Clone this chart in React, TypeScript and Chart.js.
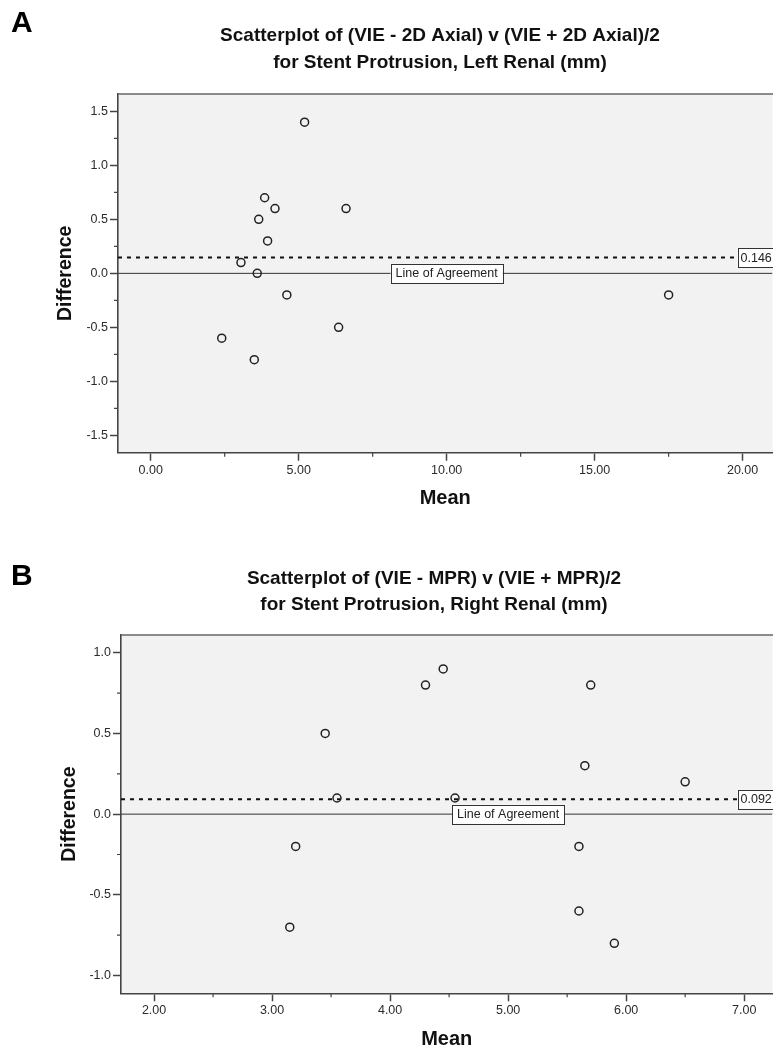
import React, { useEffect, useRef } from "react";
import { Chart, registerables } from "chart.js";

Chart.register(...registerables);

const FONT = '"Liberation Sans", Arial, Helvetica, sans-serif';

// ---------- Panel A: VIE vs 2D Axial, Left Renal ----------
const letterA = "A";
const titleA = [
  "Scatterplot of (VIE - 2D Axial) v (VIE + 2D Axial)/2",
  "for Stent Protrusion, Left Renal (mm)",
];
const meanA = [5.2, 3.85, 4.2, 6.6, 3.65, 3.95, 3.05, 3.6, 4.6, 6.35, 2.4, 3.5, 17.5];
const diffA = [1.4, 0.7, 0.6, 0.6, 0.5, 0.3, 0.1, 0.0, -0.2, -0.5, -0.6, -0.8, -0.2];
const meanDiffA = 0.146;
const meanDiffLabelA = "0.146";
const xTicksA = [0, 5, 10, 15, 20];
const xMinorA = [2.5, 7.5, 12.5, 17.5];
const yTicksA = [-1.5, -1, -0.5, 0, 0.5, 1, 1.5];
const yMinorA = [-1.25, -0.75, -0.25, 0.25, 0.75, 1.25];
const xRangeA = [-1.105, 21.01];
const yRangeA = [-1.661, 1.661];
const agreeLabelXA = 10;

// ---------- Panel B: VIE vs MPR, Right Renal ----------
const letterB = "B";
const titleB = [
  "Scatterplot of (VIE - MPR) v (VIE + MPR)/2",
  "for Stent Protrusion, Right Renal (mm)",
];
const meanB = [3.45, 3.55, 3.2, 3.15, 4.3, 4.45, 5.7, 5.65, 6.5, 4.55, 5.6, 5.6, 5.9];
const diffB = [0.5, 0.1, -0.2, -0.7, 0.8, 0.9, 0.8, 0.3, 0.2, 0.1, -0.2, -0.6, -0.8];
const meanDiffB = 0.092;
const meanDiffLabelB = "0.092";
const xTicksB = [2, 3, 4, 5, 6, 7];
const xMinorB = [2.5, 3.5, 4.5, 5.5, 6.5];
const yTicksB = [-1, -0.5, 0, 0.5, 1];
const yMinorB = [-0.75, -0.25, 0.25, 0.75];
const xRangeB = [1.72, 7.24];
const yRangeB = [-1.11, 1.11];
const agreeLabelXB = 5;

const AXIS_COLOR = "#444444";
const CANVAS_W = 778;

type PanelCfg = {
  letter: string;
  title: string[];
  mean: number[];
  diff: number[];
  meanDiff: number;
  meanDiffLabel: string;
  xTicks: number[];
  xMinor: number[];
  yTicks: number[];
  yMinor: number[];
  xRange: number[];
  yRange: number[];
  agreeX: number;
  // layout
  top: number;
  height: number;
  yWidth: number;
  yTitlePad: number;
  xHeight: number;
  padBottom: number;
  xTitlePadBottom: number;
  letterBaseline: number;
  titleX: number;
  titleBaselines: number[];
};

function drawBox(ctx: CanvasRenderingContext2D, text: string, left: number, right: number, cy: number, textX: number, align: CanvasTextAlign) {
  const h = 19;
  ctx.save();
  ctx.fillStyle = "#ffffff";
  ctx.fillRect(left, cy - h / 2, right - left, h);
  ctx.strokeStyle = "#333333";
  ctx.lineWidth = 1;
  ctx.strokeRect(Math.round(left) + 0.5, Math.round(cy - h / 2) + 0.5, Math.round(right - left), h);
  ctx.fillStyle = "#222222";
  ctx.font = `12.5px ${FONT}`;
  ctx.textAlign = align;
  ctx.textBaseline = "middle";
  ctx.fillText(text, textX, cy + 0.5);
  ctx.restore();
}

function makeDecor(cfg: PanelCfg) {
  return {
    id: "panelDecor",
    beforeDraw(chart: any) {
      const { ctx, chartArea: a } = chart;
      ctx.save();
      ctx.fillStyle = "#f2f2f2";
      ctx.fillRect(a.left, a.top, a.right - a.left, a.bottom - a.top);
      ctx.restore();
    },
    afterDraw(chart: any) {
      const { ctx, chartArea: a } = chart;
      const xs = chart.scales.x;
      const ys = chart.scales.y;
      ctx.save();
      // top border
      ctx.strokeStyle = "#666666";
      ctx.lineWidth = 1.6;
      ctx.beginPath();
      ctx.moveTo(a.left, a.top);
      ctx.lineTo(a.right + 10, a.top);
      ctx.stroke();
      // minor ticks
      ctx.strokeStyle = AXIS_COLOR;
      ctx.lineWidth = 1.2;
      ctx.beginPath();
      cfg.xMinor.forEach((v) => {
        const px = xs.getPixelForValue(v);
        ctx.moveTo(px, a.bottom);
        ctx.lineTo(px, a.bottom + 4);
      });
      cfg.yMinor.forEach((v) => {
        const py = ys.getPixelForValue(v);
        ctx.moveTo(a.left - 4, py);
        ctx.lineTo(a.left, py);
      });
      ctx.stroke();

      // agreement label
      ctx.font = `12.5px ${FONT}`;
      const text = "Line of Agreement";
      const w = ctx.measureText(text).width;
      const cx = xs.getPixelForValue(cfg.agreeX);
      const cy0 = ys.getPixelForValue(0);
      drawBox(ctx, text, cx - w / 2 - 5, cx + w / 2 + 5, cy0, cx, "center");

      // mean difference value label
      const cym = ys.getPixelForValue(cfg.meanDiff);
      drawBox(ctx, cfg.meanDiffLabel, a.right - 35, a.right + 20, cym, a.right - 32, "left");

      // panel letter
      ctx.fillStyle = "#000000";
      ctx.textAlign = "left";
      ctx.textBaseline = "alphabetic";
      ctx.font = `bold 30px ${FONT}`;
      ctx.fillText(cfg.letter, 11, cfg.letterBaseline);

      // title
      ctx.font = `bold 19px ${FONT}`;
      ctx.textAlign = "center";
      ctx.fillStyle = "#111111";
      cfg.title.forEach((line, i) => {
        ctx.fillText(line, cfg.titleX, cfg.titleBaselines[i]);
      });
      ctx.restore();
    },
  };
}

function Panel({ cfg }: { cfg: PanelCfg }) {
  const ref = useRef<HTMLCanvasElement | null>(null);
  useEffect(() => {
    if (!ref.current) return;
    const points = cfg.mean.map((m, i) => ({ x: m, y: cfg.diff[i] }));
    const agreeLine = cfg.xRange.map((x) => ({ x, y: 0 }));
    const meanLine = cfg.xRange.map((x) => ({ x, y: cfg.meanDiff }));
    const chart = new Chart(ref.current, {
      type: "scatter",
      data: {
        datasets: [
          {
            label: "Difference",
            data: points,
            pointStyle: "circle",
            pointRadius: 4,
            pointBorderWidth: 1.5,
            borderColor: "#222222",
            backgroundColor: "rgba(0,0,0,0)",
            showLine: false,
          } as any,
          {
            type: "line",
            label: "Line of Agreement",
            data: agreeLine,
            borderColor: "#333333",
            borderWidth: 1,
            pointRadius: 0,
            fill: false,
          } as any,
          {
            type: "line",
            label: "Mean difference",
            data: meanLine,
            borderColor: "#111111",
            borderWidth: 2,
            borderDash: [4, 5],
            pointRadius: 0,
            fill: false,
          } as any,
        ],
      },
      options: {
        responsive: false,
        animation: false,
        devicePixelRatio: 1,
        layout: { padding: { top: 94, left: 0, right: 0, bottom: cfg.padBottom } },
        plugins: {
          legend: { display: false },
          tooltip: { enabled: false },
          title: { display: false },
        },
        scales: {
          x: {
            type: "linear",
            min: cfg.xRange[0],
            max: cfg.xRange[1],
            afterBuildTicks: (s: any) => {
              s.ticks = cfg.xTicks.map((v) => ({ value: v }));
            },
            afterFit: (s: any) => {
              s.height = cfg.xHeight;
            },
            grid: {
              drawOnChartArea: false,
              drawTicks: true,
              tickLength: 8,
              color: AXIS_COLOR,
              tickWidth: 1.5,
            },
            border: { display: true, color: AXIS_COLOR, width: 1.6 },
            ticks: {
              callback: (v: any) => Number(v).toFixed(2),
              font: { family: FONT, size: 12.5 },
              color: "#2b2b2b",
              padding: 2,
              maxRotation: 0,
              autoSkip: false,
            },
            title: {
              display: true,
              text: "Mean",
              font: { family: FONT, size: 20, weight: "bold" },
              color: "#111111",
              padding: { top: 0, bottom: cfg.xTitlePadBottom },
            },
          },
          y: {
            type: "linear",
            min: cfg.yRange[0],
            max: cfg.yRange[1],
            afterBuildTicks: (s: any) => {
              s.ticks = cfg.yTicks.map((v) => ({ value: v }));
            },
            afterFit: (s: any) => {
              s.width = cfg.yWidth;
            },
            grid: {
              drawOnChartArea: false,
              drawTicks: true,
              tickLength: 8,
              color: AXIS_COLOR,
              tickWidth: 1.5,
            },
            border: { display: true, color: AXIS_COLOR, width: 1.6 },
            ticks: {
              callback: (v: any) => Number(v).toFixed(1),
              font: { family: FONT, size: 12.5 },
              color: "#2b2b2b",
              padding: 2,
              autoSkip: false,
            },
            title: {
              display: true,
              text: "Difference",
              font: { family: FONT, size: 19.5, weight: "bold" },
              color: "#111111",
              padding: { top: cfg.yTitlePad, bottom: 0 },
            },
          },
        },
      },
      plugins: [makeDecor(cfg)],
    } as any);
    return () => chart.destroy();
  }, [cfg]);

  return (
    <div style={{ position: "absolute", left: 0, top: cfg.top, width: 773, height: cfg.height, overflow: "hidden" }}>
      <canvas ref={ref} width={CANVAS_W} height={cfg.height} style={{ display: "block", width: CANVAS_W, height: cfg.height }} />
    </div>
  );
}

const panelA: PanelCfg = {
  letter: letterA,
  title: titleA,
  mean: meanA,
  diff: diffA,
  meanDiff: meanDiffA,
  meanDiffLabel: meanDiffLabelA,
  xTicks: xTicksA,
  xMinor: xMinorA,
  yTicks: yTicksA,
  yMinor: yMinorA,
  xRange: xRangeA,
  yRange: yRangeA,
  agreeX: agreeLabelXA,
  top: 0,
  height: 520,
  yWidth: 118,
  yTitlePad: 54,
  xHeight: 57.3,
  padBottom: 10,
  xTitlePadBottom: 0,
  letterBaseline: 32,
  titleX: 440,
  titleBaselines: [41, 67.5],
};

const panelB: PanelCfg = {
  letter: letterB,
  title: titleB,
  mean: meanB,
  diff: diffB,
  meanDiff: meanDiffB,
  meanDiffLabel: meanDiffLabelB,
  xTicks: xTicksB,
  xMinor: xMinorB,
  yTicks: yTicksB,
  yMinor: yMinorB,
  xRange: xRangeB,
  yRange: yRangeB,
  agreeX: agreeLabelXB,
  top: 541,
  height: 508,
  yWidth: 121,
  yTitlePad: 58.3,
  xHeight: 55.7,
  padBottom: 0,
  xTitlePadBottom: -2,
  letterBaseline: 44,
  titleX: 434,
  titleBaselines: [43, 69],
};

export default function App() {
  return (
    <div
      style={{
        position: "absolute",
        left: 0,
        top: 0,
        width: 773,
        height: 1049,
        overflow: "hidden",
        background: "#ffffff",
      }}
    >
      <Panel cfg={panelA} />
      <Panel cfg={panelB} />
    </div>
  );
}
